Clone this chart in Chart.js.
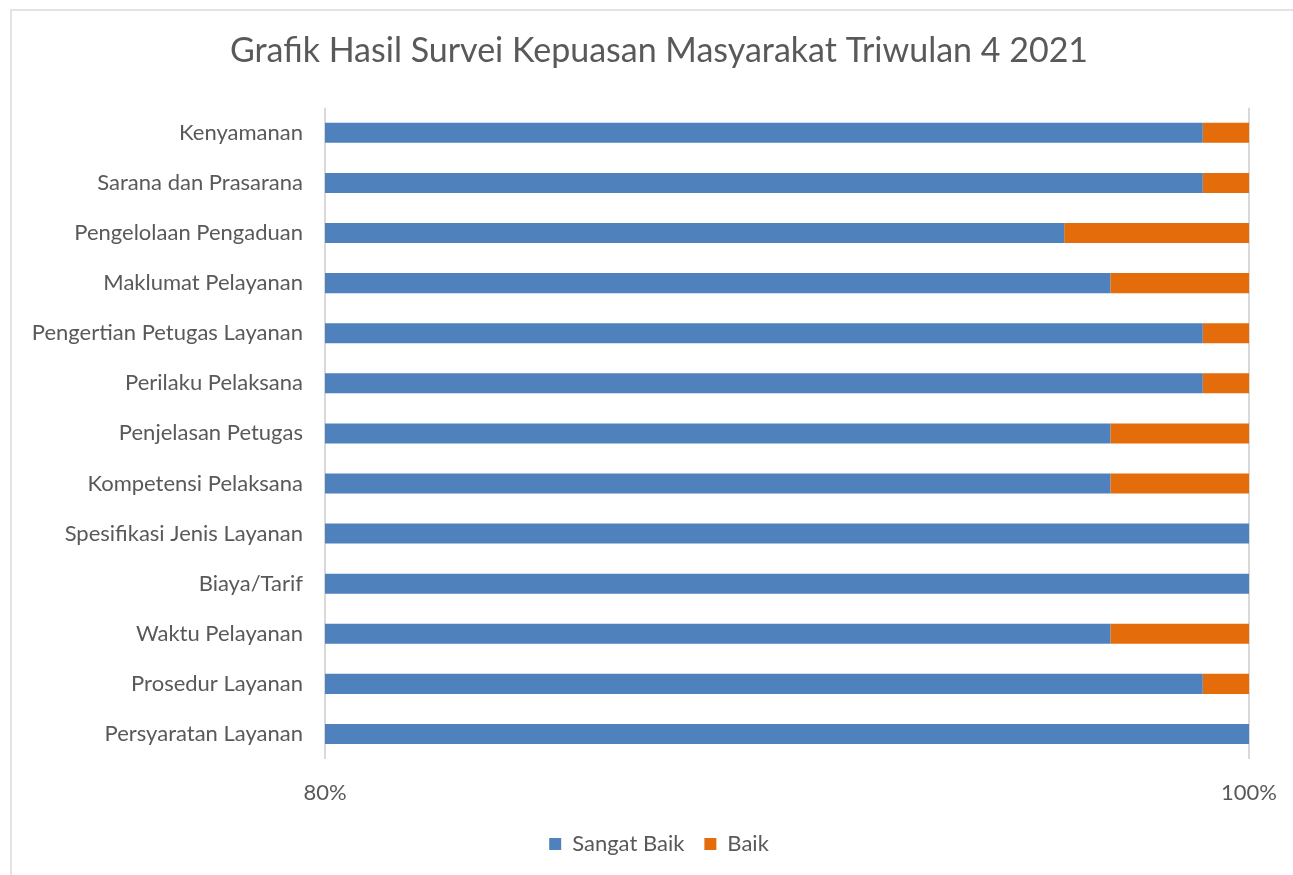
<!DOCTYPE html>
<html>
<head>
<meta charset="utf-8">
<script src="https://cdn.jsdelivr.net/npm/chart.js@4.4.0/dist/chart.umd.min.js"></script>
<style>
  html, body { margin: 0; padding: 0; background: #fff; }
  .frame {
    position: absolute; left: 10px; top: 9px; width: 1300px; height: 880px;
    border: 2px solid #e3e3e3; box-sizing: border-box;
  }
  .chart-render { position: absolute; left: 0; top: 0; width: 1293px; height: 875px; }
</style>
</head>
<body>
<div class="frame"></div>
<div class="chart-render">
  <canvas id="chart" width="1293" height="875"></canvas>
</div>
<script>
// categories, top to bottom
const categories = [
  'Kenyamanan',
  'Sarana dan Prasarana',
  'Pengelolaan Pengaduan',
  'Maklumat Pelayanan',
  'Pengertian Petugas Layanan',
  'Perilaku Pelaksana',
  'Penjelasan Petugas',
  'Kompetensi Pelaksana',
  'Spesifikasi Jenis Layanan',
  'Biaya/Tarif',
  'Waktu Pelayanan',
  'Prosedur Layanan',
  'Persyaratan Layanan'
];

// percent of respondents
const sangatBaik = [99, 99, 96, 97, 99, 99, 97, 97, 100, 100, 97, 99, 100];
const baik = [1, 1, 4, 3, 1, 1, 3, 3, 0, 0, 3, 1, 0];

const axisMin = 80;
const axisMax = 100;
const axisStep = 20;

const chartTitle = 'Grafik Hasil Survei Kepuasan Masyarakat Triwulan 4 2021';

const textColor = '#595959';
const gridColor = '#d9d9d9';
const fontFamily = 'Lato, "Open Sans", sans-serif';

Chart.defaults.font.family = fontFamily;
Chart.defaults.color = textColor;

// long category labels run past the left padding; widen the y scale's
// clip box after layout so they are not cut off
const unclipLabels = {
  id: 'unclipLabels',
  afterLayout(chart) {
    chart.scales.y.left = 0;
  }
};

const ctx = document.getElementById('chart').getContext('2d');

new Chart(ctx, {
  type: 'bar',
  data: {
    labels: categories,
    datasets: [
      {
        label: 'Sangat Baik',
        data: sangatBaik,
        backgroundColor: '#4f81bd',
        borderWidth: 0,
        categoryPercentage: 0.4,
        barPercentage: 1.0,
      },
      {
        label: 'Baik',
        data: baik,
        backgroundColor: '#e46c0a',
        borderWidth: 0,
        categoryPercentage: 0.4,
        barPercentage: 1.0,
      }
    ]
  },
  options: {
    indexAxis: 'y',
    responsive: false,
    animation: false,
    layout: {
      // shifted left/right so title and legend sit centred like the original
      padding: { left: 69, right: 44, top: 0, bottom: 10 }
    },
    scales: {
      x: {
        stacked: true,
        min: axisMin,
        max: axisMax,
        afterFit: (scale) => {
          scale.height = 54;
          scale.paddingLeft = 0;
          scale.paddingRight = 0;
        },
        ticks: {
          stepSize: axisStep,
          padding: 21,
          font: { size: 22 },
          color: textColor,
          callback: (v) => v + '%',
        },
        grid: {
          display: true,
          color: gridColor,
          lineWidth: 2,
          drawTicks: false,
        },
        border: { display: false },
      },
      y: {
        stacked: true,
        afterFit: (scale) => { scale.width = 256; },
        ticks: {
          padding: 22,
          font: { size: 22 },
          color: textColor,
        },
        grid: { display: false, drawTicks: false },
        border: { display: false },
      }
    },
    plugins: {
      title: {
        display: true,
        text: chartTitle,
        color: textColor,
        font: { size: 34, weight: 'normal' },
        padding: { top: 31, bottom: 36 },
      },
      legend: {
        position: 'bottom',
        labels: {
          boxWidth: 12,
          boxHeight: 12,
          padding: 20,
          font: { size: 22 },
          color: textColor,
        }
      },
      tooltip: { enabled: false }
    }
  },
  plugins: [unclipLabels]
});
</script>
</body>
</html>
